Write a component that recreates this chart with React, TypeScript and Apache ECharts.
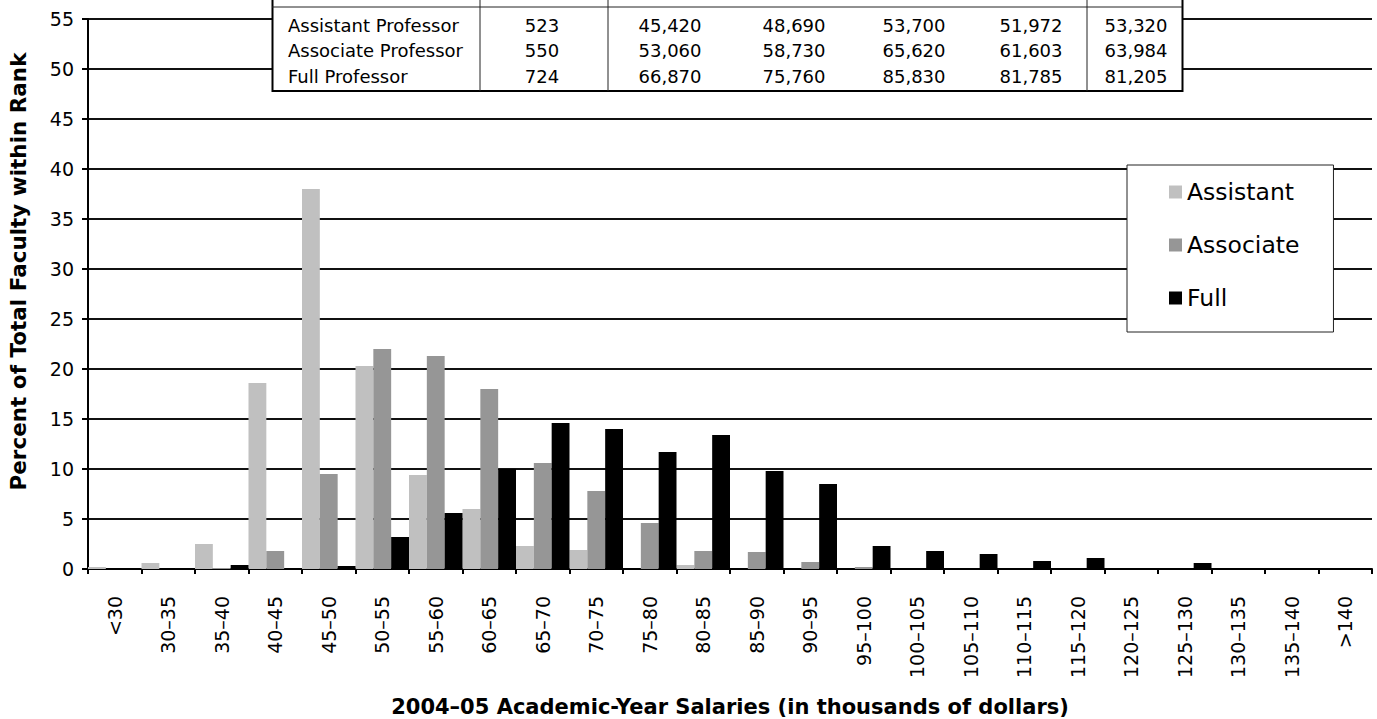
import React, { useEffect, useRef } from "react";
import * as echarts from "echarts";

const categories = [
  "<30", "30\u201335", "35\u201340", "40\u201345", "45\u201350", "50\u201355", "55\u201360", "60\u201365",
  "65\u201370", "70\u201375", "75\u201380", "80\u201385", "85\u201390", "90\u201395", "95\u2013100", "100\u2013105",
  "105\u2013110", "110\u2013115", "115\u2013120", "120\u2013125", "125\u2013130", "130\u2013135", "135\u2013140", ">140",
];
const assistant = [0.2, 0.6, 2.5, 18.6, 38.0, 20.3, 9.4, 6.0, 2.3, 1.9, 0, 0.4, 0, 0, 0, 0, 0, 0, 0, 0, 0, 0, 0, 0];
const associate = [0, 0, 0.1, 1.8, 9.5, 22.0, 21.3, 18.0, 10.6, 7.8, 4.6, 1.8, 1.7, 0.7, 0.2, 0, 0, 0, 0, 0, 0, 0, 0, 0];
const full = [0, 0, 0.4, 0, 0.3, 3.2, 5.6, 10.0, 14.6, 14.0, 11.7, 13.4, 9.8, 8.5, 2.3, 1.8, 1.5, 0.8, 1.1, 0, 0.6, 0, 0, 0.1];

const tableRanks = ["Assistant Professor", "Associate Professor", "Full Professor"];
const tableN = ["523", "550", "724"];
const tableCol1 = ["45,420", "53,060", "66,870"];
const tableCol2 = ["48,690", "58,730", "75,760"];
const tableCol3 = ["53,700", "65,620", "85,830"];
const tableCol4 = ["51,972", "61,603", "81,785"];
const tableCol5 = ["53,320", "63,984", "81,205"];

const FONT = "DejaVu Sans";

export default function App() {
  const ref = useRef<HTMLDivElement>(null);
  useEffect(() => {
    if (!ref.current) return;
    const chart = echarts.init(ref.current, null, { renderer: "svg" });

    const tableTexts: any[] = [];
    const rowY = [25, 50.5, 76];
    const cols: { data: string[]; x: number; align: string }[] = [
      { data: tableRanks, x: 288, align: "left" },
      { data: tableN, x: 542, align: "center" },
      { data: tableCol1, x: 670, align: "center" },
      { data: tableCol2, x: 794, align: "center" },
      { data: tableCol3, x: 914, align: "center" },
      { data: tableCol4, x: 1031, align: "center" },
      { data: tableCol5, x: 1136, align: "center" },
    ];
    cols.forEach((c) => {
      c.data.forEach((t, i) => {
        tableTexts.push({
          type: "text",
          x: c.x,
          y: rowY[i],
          z: 101,
          style: {
            text: t,
            fill: "#000",
            font: `18px "${FONT}"`,
            textAlign: c.align,
            textVerticalAlign: "middle",
          },
        });
      });
    });

    const vLines = [480, 608, 1087].map((x) => ({
      type: "line",
      z: 101,
      shape: { x1: x, y1: 0, x2: x, y2: 91 },
      style: { stroke: "#222", lineWidth: 1 },
    }));

    chart.setOption({
      animation: false,
      backgroundColor: "#fff",
      grid: { left: 88, right: 5, top: 19, bottom: 150 },
      xAxis: {
        type: "category",
        data: categories,
        boundaryGap: true,
        axisLine: { show: true, lineStyle: { color: "#000", width: 2 } },
        axisTick: { show: true, length: 5, interval: 0, lineStyle: { color: "#000", width: 2 } },
        axisLabel: {
          interval: 0,
          rotate: 90,
          margin: 27,
          fontSize: 19,
          fontFamily: FONT,
          color: "#000",
        },
        splitLine: { show: false },
      },
      yAxis: {
        type: "value",
        min: 0,
        max: 55,
        interval: 5,
        axisLine: { show: true, lineStyle: { color: "#000", width: 2 } },
        axisTick: { show: true, length: 6, lineStyle: { color: "#000", width: 2 } },
        axisLabel: { margin: 14, fontSize: 19, fontFamily: FONT, color: "#000" },
        splitLine: { show: true, lineStyle: { color: "#111", width: 2 } },
      },
      legend: {
        left: 1127,
        top: 165,
        orient: "vertical",
        icon: "rect",
        itemWidth: 13,
        itemHeight: 13,
        itemGap: 29,
        padding: [15, 34, 22, 42],
        backgroundColor: "#fff",
        borderColor: "#222",
        borderWidth: 1,
        borderRadius: 0,
        textStyle: { fontSize: 23.5, lineHeight: 24, fontFamily: FONT, color: "#000" },
        data: ["Assistant", "Associate", "Full"],
      },
      series: [
        {
          name: "Assistant",
          type: "bar",
          data: assistant,
          barGap: "0%",
          barCategoryGap: "0%",
          itemStyle: { color: "#C0C0C0" },
        },
        {
          name: "Associate",
          type: "bar",
          data: associate,
          barGap: "0%",
          barCategoryGap: "0%",
          itemStyle: { color: "#969696" },
        },
        {
          name: "Full",
          type: "bar",
          data: full,
          barGap: "0%",
          barCategoryGap: "0%",
          itemStyle: { color: "#000000" },
        },
      ],
      graphic: [
        {
          type: "rect",
          z: 100,
          shape: { x: 272.5, y: -10, width: 910, height: 101 },
          style: { fill: "#fff", stroke: "#000", lineWidth: 2 },
        },
        {
          type: "line",
          z: 101,
          shape: { x1: 272, y1: 7, x2: 1182, y2: 7 },
          style: { stroke: "#222", lineWidth: 1 },
        },
        ...vLines,
        ...tableTexts,
        {
          type: "text",
          x: 18,
          y: 271.5,
          rotation: Math.PI / 2,
          style: {
            text: "Percent of Total Faculty within Rank",
            fill: "#000",
            font: `bold 21.5px "${FONT}"`,
            textAlign: "center",
            textVerticalAlign: "middle",
          },
        },
        {
          type: "text",
          x: 730,
          y: 707,
          style: {
            text: "2004\u201305 Academic-Year Salaries (in thousands of dollars)",
            fill: "#000",
            font: `bold 21px "${FONT}"`,
            textAlign: "center",
            textVerticalAlign: "middle",
          },
        },
      ],
    });
    return () => chart.dispose();
  }, []);
  return (
    <div
      ref={ref}
      style={{ position: "fixed", left: 0, top: 0, width: 1377, height: 719, background: "#fff" }}
    />
  );
}
